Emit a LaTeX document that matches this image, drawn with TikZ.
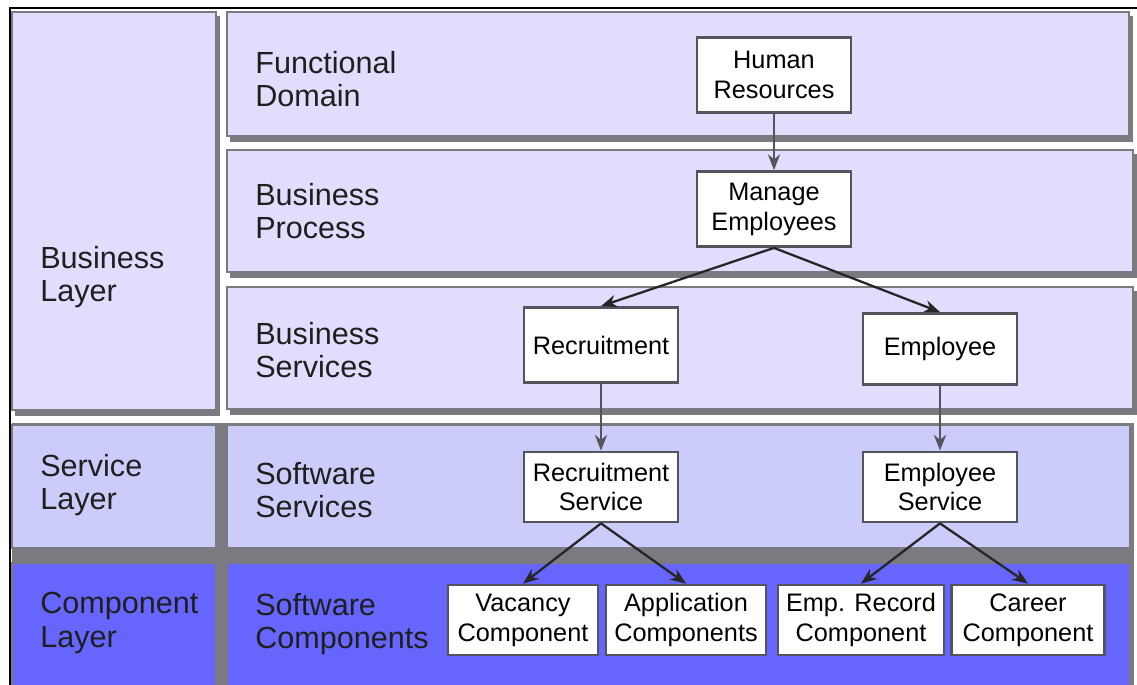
\documentclass[tikz,border=0pt]{standalone}
\usepackage{fontspec}
\setmainfont{Liberation Sans}
\usetikzlibrary{arrows.meta}
\definecolor{bizcol}{RGB}{224,222,252}
\definecolor{svccol}{RGB}{204,204,250}
\definecolor{compcol}{RGB}{102,102,255}
\definecolor{edgegray}{RGB}{122,122,128}
\definecolor{boxgray}{RGB}{84,84,92}
\tikzset{
  panel/.style={draw=edgegray, line width=1pt},
  lbl/.style={anchor=west, align=left, inner sep=0pt, text=black!88, font=\fontsize{17.4}{18.8}\selectfont},
  unit/.style={draw=boxgray, fill=white, line width=1.6pt, align=center, inner sep=1pt,
    minimum width=3.08cm, minimum height=1.5cm, font=\fontsize{14.4}{17}\selectfont},
  link/.style={-{Stealth[length=9pt,width=7pt]}, line width=1.3pt, black!85},
}

\begin{document}
\begin{tikzpicture}[x=0.02cm,y=-0.02cm]
\useasboundingbox (0,0) rectangle (1137,685);

\foreach \xa/\ya/\xb/\yb in {12/12/216/410, 227/12/1129/136, 227/150/1133/272, 227/287/1133/409}{
  \fill[edgegray] (\xa+3,\ya+4) rectangle (\xb+4,\yb+6);
  \filldraw[panel, fill=bizcol] (\xa,\ya) rectangle (\xb,\yb);
}
\fill[edgegray] (12,423) rectangle (1134,690);
\foreach \xa/\ya/\xb/\yb/\col in {12/425/216/548/svccol, 227/425/1130/548/svccol,
    12/563/216/690/compcol, 227/563/1130/690/compcol}
  \filldraw[panel, fill=\col] (\xa,\ya) rectangle (\xb,\yb);
\draw[line width=1.2pt] (10,690) -- (10,8) -- (1140,8);

\foreach \nm/\x/\y/\txt in {bl/40/277/{Business\\Layer}, sl/40/485/{Service\\Layer},
    cl/40/623/{Component\\Layer}, fd/255/79/{Functional\\Domain}, bp/255/211/{Business\\Process},
    bs/255/350/{Business\\Services}, ss/255/490/{Software\\Services}, sc/255/624/{Software\\Components}}
  \node[lbl] (\nm) at (\x,\y) {\txt};

\node[unit] (hr) at (774,75) {Human\\Resources};
\node[unit] (me) at (774,209) {Manage\\Employees};
\node[unit] (rec) at (601,345) {Recruitment};
\node[unit, minimum height=1.42cm] (emp) at (940,349) {Employee};
\node[unit, minimum height=1.4cm] (recsvc) at (601,487) {Recruitment\\Service};
\node[unit, minimum height=1.4cm] (empsvc) at (940,487) {Employee\\Service};
\node[unit, minimum height=1.4cm, minimum width=3.0cm] (vac) at (523,620) {Vacancy\\Component};
\node[unit, minimum height=1.4cm, minimum width=3.2cm] (app) at (686,620) {Application\\Components};
\node[unit, minimum height=1.4cm, minimum width=3.32cm] (emprec) at (861,620) {Emp. Record\\Component};
\node[unit, minimum height=1.4cm, minimum width=3.06cm] (car) at (1028,620) {Career\\Component};

\draw[link, boxgray] (hr) -- (me);
\draw[link] (me.south) -- (rec.north);
\draw[link] (me.south) -- (emp.north);
\draw[link, boxgray] (rec) -- (recsvc);
\draw[link, boxgray] (emp) -- (empsvc);
\draw[link] (recsvc.south) -- (vac.north);
\draw[link] (recsvc.south) -- (app.north);
\draw[link] (empsvc.south) -- (emprec.north);
\draw[link] (empsvc.south) -- (car.north);
\end{tikzpicture}
\end{document}
